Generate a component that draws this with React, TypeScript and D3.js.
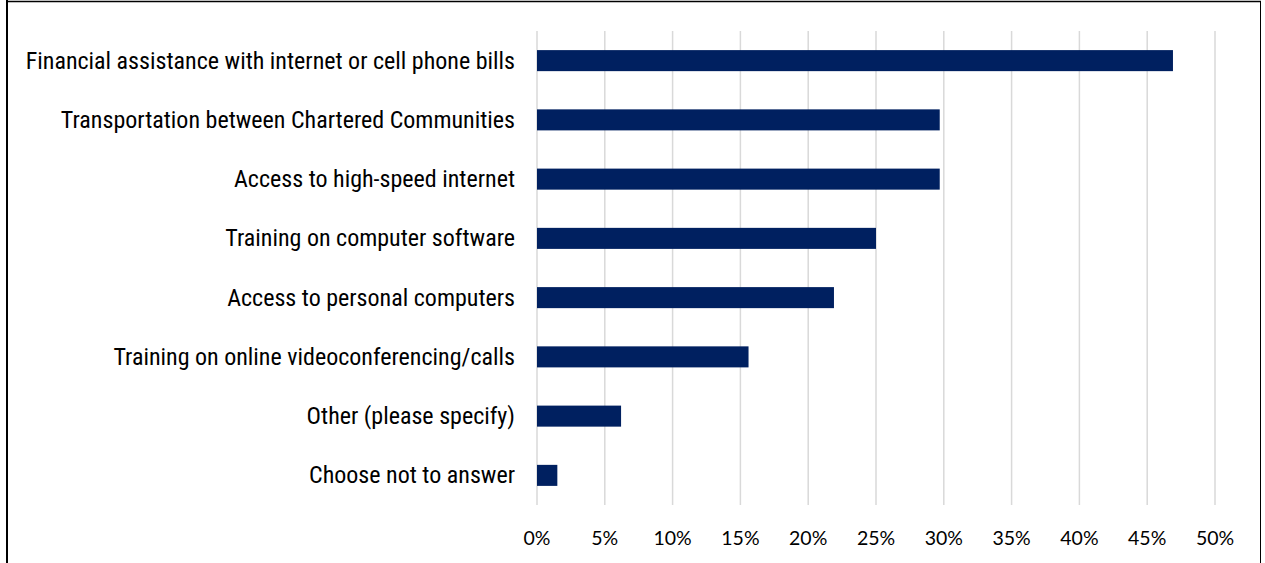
import React from "react";
import * as d3 from "d3";

const categories = [
  "Financial assistance with internet or cell phone bills",
  "Transportation between Chartered Communities",
  "Access to high-speed internet",
  "Training on computer software",
  "Access to personal computers",
  "Training on online videoconferencing/calls",
  "Other (please specify)",
  "Choose not to answer",
];
const values = [0.469, 0.297, 0.297, 0.25, 0.219, 0.156, 0.062, 0.015];
const ticks = [0, 0.05, 0.1, 0.15, 0.2, 0.25, 0.3, 0.35, 0.4, 0.45, 0.5];

const W = 1265;
const H = 563;

export default function App() {
  const x = d3.scaleLinear().domain([0, 0.5]).range([537, 1215]);
  const y = d3
    .scaleBand<string>()
    .domain(categories)
    .range([31, 505])
    .paddingInner(0.645)
    .paddingOuter(0.3225);
  const fmt = d3.format(".0%");
  return (
    <div style={{ position: "absolute", left: 0, top: 0 }}>
      <svg width={W} height={H} style={{ display: "block", background: "#fff" }}>
        <rect x={0} y={0} width={W} height={H} fill="#fff" />
        {ticks.map((t) => (
          <line
            key={"g" + t}
            x1={x(t)}
            x2={x(t)}
            y1={31}
            y2={505}
            stroke="#d9d9d9"
            strokeWidth={1.5}
          />
        ))}
        {categories.map((c, i) => (
          <rect
            key={c}
            x={x(0)}
            y={y(c)}
            width={x(values[i]) - x(0)}
            height={y.bandwidth()}
            fill="#002060"
          />
        ))}
        {categories.map((c) => (
          <text
            key={"l" + c}
            x={515}
            y={(y(c) as number) + y.bandwidth() / 2}
            textAnchor="end"
            dominantBaseline="central"
            fontFamily="'Liberation Sans Narrow', 'Roboto Condensed', Roboto, sans-serif"
            fontSize={24}
            fill="#000"
          >
            {c}
          </text>
        ))}
        {ticks.map((t) => (
          <text
            key={"t" + t}
            x={x(t)}
            y={537}
            textAnchor="middle"
            dominantBaseline="central"
            fontFamily="Lato, 'Open Sans', sans-serif"
            fontSize={19.5}
            fill="#000"
          >
            {fmt(t)}
          </text>
        ))}
        <line x1={7} x2={7} y1={0} y2={H} stroke="#000" strokeWidth={2} />
        <line x1={6} x2={1261} y1={1.5} y2={1.5} stroke="#000" strokeWidth={1.5} />
        <line x1={1260.5} x2={1260.5} y1={1} y2={H} stroke="#000" strokeWidth={1} />
      </svg>
    </div>
  );
}
